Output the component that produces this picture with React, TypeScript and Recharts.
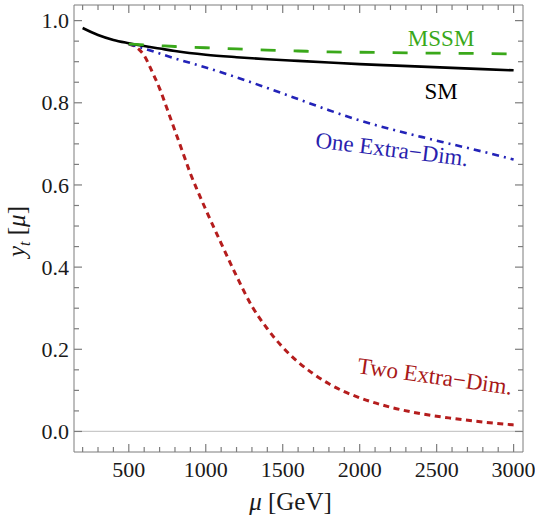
import React from "react";
import { LineChart, Line, XAxis, YAxis, ReferenceLine, ReferenceDot } from "recharts";

// running top Yukawa coupling y_t(mu) for the four scenarios
const smMu = [200, 300, 400, 500, 600, 700, 800, 1000, 1200, 1400, 1600, 1800, 2000, 2200, 2400, 2600, 2800, 3000];
const smYt = [0.982, 0.965, 0.953, 0.945, 0.938, 0.932, 0.926, 0.917, 0.911, 0.906, 0.902, 0.898, 0.894, 0.891, 0.888, 0.885, 0.882, 0.879];

const mssmMu = [500, 600, 700, 800, 1000, 1200, 1400, 1600, 1800, 2000, 2400, 2800, 3000];
const mssmYt = [0.943, 0.941, 0.939, 0.937, 0.934, 0.931, 0.928, 0.926, 0.924, 0.923, 0.921, 0.920, 0.919];

const oneXdMu = [500, 600, 700, 800, 1000, 1200, 1400, 1600, 1800, 2000, 2200, 2400, 2600, 2800, 3000];
const oneXdYt = [0.943, 0.932, 0.920, 0.908, 0.886, 0.862, 0.836, 0.809, 0.782, 0.757, 0.736, 0.717, 0.699, 0.681, 0.662];

const twoXdMu = [500, 550, 600, 650, 700, 750, 800, 850, 900, 950, 1000, 1100, 1200, 1300, 1400, 1500, 1600, 1700, 1800, 1900, 2000, 2200, 2400, 2600, 2800, 3000];
const twoXdYt = [0.943, 0.935, 0.915, 0.877, 0.835, 0.784, 0.732, 0.680, 0.628, 0.583, 0.540, 0.458, 0.378, 0.305, 0.250, 0.205, 0.169, 0.140, 0.116, 0.097, 0.082, 0.059, 0.043, 0.032, 0.023, 0.016];

// frame ticks: majors get labels, the rest are minor marks
const xTicks = [200, 300, 400, 500, 600, 700, 800, 900, 1000, 1100, 1200, 1300, 1400, 1500, 1600, 1700, 1800, 1900, 2000, 2100, 2200, 2300, 2400, 2500, 2600, 2700, 2800, 2900, 3000];
const xMajor = [500, 1000, 1500, 2000, 2500, 3000];
const yTicks = [0, 0.05, 0.1, 0.15, 0.2, 0.25, 0.3, 0.35, 0.4, 0.45, 0.5, 0.55, 0.6, 0.65, 0.7, 0.75, 0.8, 0.85, 0.9, 0.95, 1.0];
const yMajor = [0, 0.2, 0.4, 0.6, 0.8, 1.0];
const xDomain = [144, 3061];
const yDomain = [-0.05, 1.038];

const toRows = (mu: number[], yt: number[]) => mu.map((m, i) => ({ mu: m, yt: yt[i] }));
const smData = toRows(smMu, smYt);
const mssmData = toRows(mssmMu, mssmYt);
const oneXdData = toRows(oneXdMu, oneXdYt);
const twoXdData = toRows(twoXdMu, twoXdYt);

const W = 535;
const H = 518;
const MARGIN = { top: 5, right: 12, bottom: 0, left: 0 };
// plot edges used for the mirrored ticks on the top and right of the frame
const PLOT_TOP = MARGIN.top;
const PLOT_RIGHT = W - MARGIN.right;

const FONT = "'Liberation Serif', 'DejaVu Serif', serif";
const FRAME = "#7d7d7d";
const GAP = 10;

const isMajor = (v: number, majors: number[]) => majors.some((m) => Math.abs(m - v) < 1e-6);

const xTick = (props: any) => {
  const { x, y, payload } = props;
  const v = payload.value as number;
  const major = isMajor(v, xMajor);
  const len = major ? 8 : 5;
  const y0 = y - GAP;
  return (
    <g stroke={FRAME} strokeWidth={1.2}>
      <line x1={x} x2={x} y1={y0} y2={y0 - len} />
      <line x1={x} x2={x} y1={PLOT_TOP} y2={PLOT_TOP + len} />
      {major && (
        <text x={x} y={y0 + 24.5} textAnchor="middle" fontSize={22} fontFamily={FONT} fill="#1a1a1a" stroke="none">
          {v}
        </text>
      )}
    </g>
  );
};

const yTick = (props: any) => {
  const { x, y, payload } = props;
  const v = payload.value as number;
  const major = isMajor(v, yMajor);
  const len = major ? 8 : 5;
  const x0 = x + GAP;
  return (
    <g stroke={FRAME} strokeWidth={1.2}>
      <line x1={x0} x2={x0 + len} y1={y} y2={y} />
      <line x1={PLOT_RIGHT} x2={PLOT_RIGHT - len} y1={y} y2={y} />
      {major && (
        <text x={x0 - 5} y={y} dy="0.35em" textAnchor="end" fontSize={22} fontFamily={FONT} fill="#1a1a1a" stroke="none">
          {v.toFixed(1)}
        </text>
      )}
    </g>
  );
};

const curveLabel = (text: string, color: string, angle: number) => (props: any) => {
  const { viewBox } = props;
  const cx = viewBox.x + viewBox.width / 2;
  const cy = viewBox.y + viewBox.height / 2;
  return (
    <text
      x={cx}
      y={cy}
      dy="0.35em"
      textAnchor="middle"
      fill={color}
      fontSize={23}
      fontFamily={FONT}
      transform={angle ? `rotate(${angle} ${cx} ${cy})` : undefined}
    >
      {text}
    </text>
  );
};

const xTitle = (props: any) => {
  const { viewBox } = props;
  const cx = viewBox.x + viewBox.width / 2 - 8;
  return (
    <text x={cx} y={viewBox.y + 58} textAnchor="middle" fontSize={25} fontFamily={FONT} fill="#1a1a1a">
      <tspan fontStyle="italic">μ</tspan>
      <tspan> [GeV]</tspan>
    </text>
  );
};

const yTitle = (props: any) => {
  const { viewBox } = props;
  const cx = viewBox.x + 25;
  const cy = viewBox.y + viewBox.height / 2 + 3;
  return (
    <text x={cx} y={cy} textAnchor="middle" fontSize={25} fontFamily={FONT} fill="#1a1a1a" transform={`rotate(-90 ${cx} ${cy})`}>
      <tspan fontStyle="italic">y</tspan>
      <tspan fontStyle="italic" fontSize={16} dy={5}>t</tspan>
      <tspan dy={-5}> [</tspan>
      <tspan fontStyle="italic">μ</tspan>
      <tspan>]</tspan>
    </text>
  );
};

export default function App() {
  return (
    <div style={{ position: "absolute", left: 0, top: 0, width: W, height: H, background: "#fff" }}>
      <LineChart width={W} height={H} margin={MARGIN}>
        <XAxis
          dataKey="mu"
          type="number"
          domain={xDomain}
          allowDataOverflow
          ticks={xTicks}
          interval={0}
          height={66}
          tickSize={0}
          tickMargin={GAP}
          tickLine={false}
          axisLine={{ stroke: FRAME }}
          tick={xTick}
          label={{ content: xTitle }}
        />
        <YAxis
          type="number"
          domain={yDomain}
          allowDataOverflow
          ticks={yTicks}
          interval={0}
          width={74}
          tickSize={0}
          tickMargin={GAP}
          tickLine={false}
          axisLine={{ stroke: FRAME }}
          tick={yTick}
          label={{ content: yTitle }}
        />
        {/* closing edges of the frame */}
        <ReferenceLine y={yDomain[1]} stroke={FRAME} ifOverflow="visible" />
        <ReferenceLine x={xDomain[1]} stroke={FRAME} ifOverflow="visible" />
        <ReferenceLine y={0} stroke="#c9c9c9" strokeWidth={1.2} />

        <Line data={twoXdData} dataKey="yt" type="monotone" stroke="#b51d1d" strokeWidth={3} strokeDasharray="6 4.5" dot={false} activeDot={false} isAnimationActive={false} />
        <Line data={oneXdData} dataKey="yt" type="monotone" stroke="#2323b8" strokeWidth={2.6} strokeDasharray="7 5 2 5" dot={false} activeDot={false} isAnimationActive={false} />
        <Line data={smData} dataKey="yt" type="monotone" stroke="#000" strokeWidth={2.6} dot={false} activeDot={false} isAnimationActive={false} />
        <Line data={mssmData} dataKey="yt" type="monotone" stroke="#3aa81a" strokeWidth={2.8} strokeDasharray="15 18" dot={false} activeDot={false} isAnimationActive={false} />

        <ReferenceDot x={2529} y={0.958} r={1} fill="none" stroke="none" label={{ content: curveLabel("MSSM", "#3aa81a", 0) }} />
        <ReferenceDot x={2529} y={0.829} r={1} fill="none" stroke="none" label={{ content: curveLabel("SM", "#000", 0) }} />
        <ReferenceDot x={2210} y={0.688} r={1} fill="none" stroke="none" label={{ content: curveLabel("One Extra−Dim.", "#2a1fae", 7) }} />
        <ReferenceDot x={2490} y={0.135} r={1} fill="none" stroke="none" label={{ content: curveLabel("Two Extra−Dim.", "#a81818", 8) }} />
      </LineChart>
    </div>
  );
}
